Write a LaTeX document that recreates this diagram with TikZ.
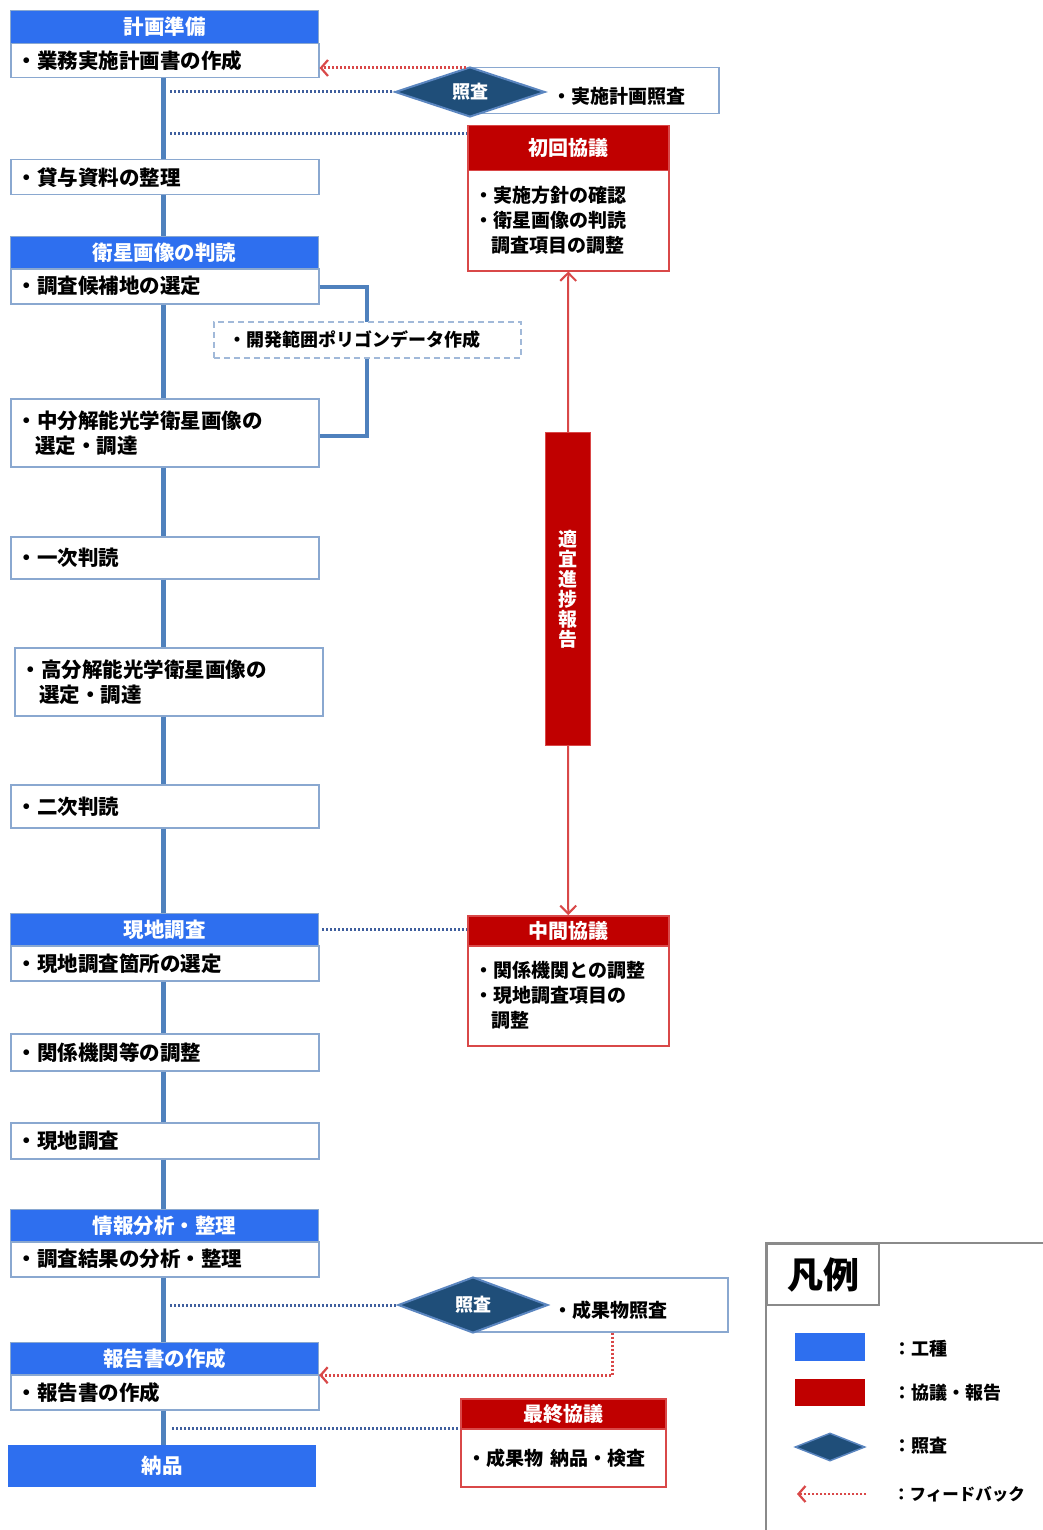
\documentclass[tikz,border=0pt]{standalone}
\usepackage{fontspec}
\setmainfont{Noto Sans CJK JP}
\usetikzlibrary{shapes.geometric,arrows.meta}
\definecolor{hblue}{HTML}{2E6FEF}
\definecolor{bordblue}{HTML}{8AA8D0}
\definecolor{trunkc}{HTML}{4F81BD}
\definecolor{dotblue}{HTML}{3F5F9E}
\definecolor{kred}{HTML}{C00000}
\definecolor{lred}{HTML}{D94848}
\definecolor{diafill}{HTML}{1F4E79}
\definecolor{diabord}{HTML}{5B86C0}
\definecolor{leggray}{HTML}{8A8A8A}
\newcommand{\fsz}[1]{\fontsize{#1}{#1}\selectfont}
\tikzset{
  hdr/.style={draw=bordblue, line width=1.2pt, fill=hblue, text=white, font=\bfseries\fsz{20.5},
    minimum width=308, minimum height=33, anchor=north west, inner sep=0pt},
  cont/.style={draw=bordblue, line width=1.5pt, fill=white, text=black,
    font=\bfseries\fontsize{20.5}{25}\selectfont, text width=296, align=left,
    inner xsep=6pt, inner ysep=0pt, anchor=north west, minimum height=35},
  trunk/.style={draw=trunkc, line width=5pt},
  bdot/.style={draw=dotblue, line width=3pt, dash pattern=on 2pt off 2pt},
  fb/.style={draw=lred, line width=3pt, dash pattern=on 2pt off 2pt,
    -{Straight Barb[length=7pt,width=16pt,line width=2.2pt]}},
  rarrow/.style={draw=lred, line width=2pt, -{Straight Barb[length=8pt,width=16pt,line width=2pt]}},
  khdr/.style={draw=lred, line width=1.5pt, fill=kred, text=white, font=\bfseries\fsz{20},
    minimum width=201, anchor=north west, inner sep=0pt},
  kbody/.style={draw=lred, line width=1.5pt, fill=white, text=black,
    font=\bfseries\fontsize{19}{25}\selectfont, text width=187, align=left,
    inner xsep=7pt, inner ysep=0pt, minimum width=201, anchor=north west},
  chk/.style={diamond, aspect=3, fill=diafill, draw=diabord, line width=2pt, text=white,
    font=\bfseries\fsz{18}, inner sep=0pt},
  chkbox/.style={draw=bordblue, line width=1.5pt, fill=white, anchor=north west, inner sep=0pt},
  plain/.style={font=\bfseries\fsz{19}, anchor=west, inner sep=0pt, text=black},
  legtxt/.style={font=\bfseries\fsz{18}, anchor=west, inner sep=0pt, text=black},
}
\begin{document}
\begin{tikzpicture}[x=1pt,y=-1pt]
\useasboundingbox[fill=white] (0,0) rectangle (1043,1530);
\coordinate (tx) at (163,0);

% ---- process column
\node[hdr] (h1) at (10,10) {計画準備};
\node[cont, minimum height=34] (c1) at (10,43) {・業務実施計画書の作成};
\node[cont] (c2) at (10,159) {・貸与資料の整理};
\node[hdr, minimum height=32] (h2) at (10,236) {衛星画像の判読};
\node[cont] (c3) at (10,268) {・調査候補地の選定};
\node[cont, minimum height=68] (c4) at (10,398) {・中分解能光学衛星画像の\\\hspace*{0.9em}選定・調達};
\node[cont, minimum height=42] (c5) at (10,536) {・一次判読};
\node[cont, minimum height=68] (c6) at (14,647) {・高分解能光学衛星画像の\\\hspace*{0.9em}選定・調達};
\node[cont, minimum height=43] (c7) at (10,784) {・二次判読};
\node[hdr, minimum height=32] (h3) at (10,913) {現地調査};
\node[cont] (c8) at (10,945) {・現地調査箇所の選定};
\node[cont, minimum height=37] (c9) at (10,1033) {・関係機関等の調整};
\node[cont, minimum height=36] (c10) at (10,1122) {・現地調査};
\node[hdr, minimum height=32] (h4) at (10,1209) {情報分析・整理};
\node[cont] (c11) at (10,1241) {・調査結果の分析・整理};
\node[hdr, minimum height=32] (h5) at (10,1342) {報告書の作成};
\node[cont] (c12) at (10,1374) {・報告書の作成};
\node[hdr, minimum width=307, minimum height=41, draw=hblue] (nh) at (8,1445) {納品};

\foreach \a/\b in {c1/c2,c2/h2,c3/c4,c4/c5,c5/c6,c6/c7,c7/h3,c8/c9,c9/c10,c10/h4,c11/h5,c12/nh}
  \draw[trunk] (\a.south -| tx) -- (\b.north -| tx);

% ---- bracket and dashed box
\coordinate (brk) at (367,350);
\draw[trunk, line width=4pt] (c3.east |- 0,287) -| (brk) |- (c4.east |- 0,436);
\node[draw=bordblue!80, line width=1.5pt, dash pattern=on 6pt off 4pt, fill=white,
  anchor=north west, minimum width=307, minimum height=36, text width=277, align=left,
  inner xsep=15pt, inner ysep=0pt, font=\bfseries\fsz{18}] (poly) at (213,321) {・開発範囲ポリゴンデータ作成};

% ---- first check
\node[chkbox, minimum width=248, minimum height=46] (cb1) at (470,67) {};
\node[plain] (ct1) at (552,96) {・実施計画照査};
\node[chk, minimum width=150, minimum height=50] (d1) at (470,92) {照査};
\coordinate (s1) at (170,92);
\draw[bdot] (s1) -- (d1.west);
\coordinate (f1) at (466,68);
\draw[fb] (f1) -- (f1 -| c1.east);

% ---- first meeting
\node[khdr, minimum height=45] (k1h) at (467,125) {初回協議};
\node[kbody, minimum height=100] (k1b) at (467,170) {・実施方針の確認\\・衛星画像の判読\\\hspace*{0.9em}調査項目の調整};
\coordinate (s2) at (170,134);
\draw[bdot] (s2) -- (s2 -| k1h.west);

% ---- progress bar
\node[fill=kred, draw=lred, line width=1pt, minimum width=45, minimum height=313, inner sep=0pt,
  anchor=north west, text=white, font=\bfseries\fontsize{19}{20}\selectfont, align=center] (bar) at (545,432)
  {適\\宜\\進\\捗\\報\\告};
\draw[rarrow] (bar.north) -- (k1b.south);

% ---- middle meeting
\node[khdr, minimum height=30] (k2h) at (467,915) {中間協議};
\node[kbody, minimum height=100] (k2b) at (467,945) {・関係機関との調整\\・現地調査項目の\\\hspace*{0.9em}調整};
\draw[rarrow] (bar.south) -- (k2h.north);
\draw[bdot] ([xshift=3pt]h3.east) -- (h3.east -| k2h.west);

% ---- second check
\node[chkbox, minimum width=254, minimum height=54] (cb2) at (473,1277) {};
\node[plain] (ct2) at (553,1310) {・成果物照査};
\node[chk, minimum width=150, minimum height=56] (d2) at (473,1305) {照査};
\coordinate (s3) at (170,1305);
\draw[bdot] (s3) -- (d2.west);
\coordinate (fbx) at (612,0);
\draw[fb] (cb2.south -| fbx) |- (h5.south east);

% ---- final meeting
\node[khdr, minimum width=205, minimum height=30] (k3h) at (460,1398) {最終協議};
\node[kbody, minimum width=205, text width=191, minimum height=58] (k3b) at (460,1428) {・成果物 納品・検査};
\coordinate (s4) at (172,1428);
\draw[bdot] (s4) -- (k3b.north west);

% ---- legend
\draw[leggray, line width=2pt] (766,1545) -- (766,1243) -- (1060,1243);
\node[draw=leggray, line width=2pt, anchor=north west, minimum width=112, minimum height=61,
  inner sep=0pt, font=\bfseries\fsz{36}] (lgt) at (766,1243) {凡例};
\node[fill=hblue, anchor=north west, minimum width=70, minimum height=28, inner sep=0pt] (lg1) at (795,1333) {};
\node[legtxt] (lt1) at (893,1349) {：工種};
\node[fill=kred, anchor=north west, minimum width=70, minimum height=27, inner sep=0pt] (lg2) at (795,1379) {};
\node[legtxt] (lt2) at (893,1393) {：協議・報告};
\node[chk, minimum width=70, minimum height=28, line width=1.5pt] (lg3) at (830,1447) {};
\node[legtxt] (lt3) at (893,1446) {：照査};
\coordinate (la) at (866,1494);
\coordinate (lb) at (797,1494);
\draw[fb, line width=2pt] (la) -- (lb);
\node[legtxt, font=\bfseries\fsz{16.5}] (lt4) at (893,1494) {：フィードバック};
\end{tikzpicture}
\end{document}
